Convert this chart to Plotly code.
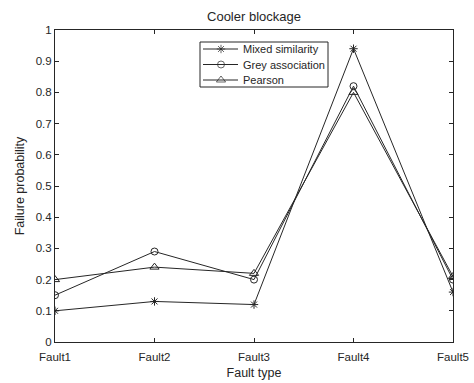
import plotly.graph_objects as go

categories = ["Fault1", "Fault2", "Fault3", "Fault4", "Fault5"]
mixed_similarity = [0.10, 0.13, 0.12, 0.94, 0.16]
grey_association = [0.15, 0.29, 0.20, 0.82, 0.20]
pearson = [0.20, 0.24, 0.22, 0.80, 0.21]
series_names = ["Mixed similarity", "Grey association", "Pearson"]
y_ticks = [0, 0.1, 0.2, 0.3, 0.4, 0.5, 0.6, 0.7, 0.8, 0.9, 1]
y_tick_labels = ["0", "0.1", "0.2", "0.3", "0.4", "0.5", "0.6", "0.7", "0.8", "0.9", "1"]

INK = "#262626"
FONT = "Liberation Sans, Arial, sans-serif"
symbols = ["asterisk-open", "circle-open", "triangle-up-open"]
sizes = [7, 7, 8]

fig = go.Figure()
for name, vals, sym, size in zip(series_names, [mixed_similarity, grey_association, pearson], symbols, sizes):
    fig.add_trace(go.Scatter(
        x=categories, y=vals, name=name, mode="lines+markers", showlegend=False,
        line=dict(color=INK, width=1),
        marker=dict(symbol=sym, size=size, color=INK, line=dict(width=1, color=INK)),
    ))

axis_common = dict(
    showline=True, linecolor=INK, linewidth=1, mirror="ticks",
    ticks="inside", ticklen=4, tickcolor=INK,
    showgrid=False, zeroline=False, automargin=False,
    tickfont=dict(family=FONT, size=11.5, color=INK),
)
fig.update_xaxes(type="category", range=[0, 4], ticklabeloverflow="allow", ticklabelstandoff=4,
                 title=dict(text="Fault type", font=dict(family=FONT, size=12.5, color=INK), standoff=6),
                 **axis_common)
fig.update_yaxes(range=[0, 1], tickvals=y_ticks, ticktext=y_tick_labels,
                 title=dict(text="Failure probability", font=dict(family=FONT, size=12.5, color=INK), standoff=8),
                 **axis_common)

# Legend drawn in pixel units on an invisible overlay axis pair (pixel coords of the figure)
fig.update_layout(
    xaxis2=dict(overlaying="x", anchor="y2", range=[55, 453], visible=False, fixedrange=True),
    yaxis2=dict(overlaying="y", anchor="x2", range=[342, 30], visible=False, fixedrange=True),
)
legend_rows = [49, 64.5, 80]
fig.add_shape(type="rect", xref="x2", yref="y2", x0=200, x1=328, y0=42, y1=87,
              line=dict(color=INK, width=1), fillcolor="white", layer="below")
for name, sym, size, ry in zip(series_names, symbols, sizes, legend_rows):
    fig.add_shape(type="line", xref="x2", yref="y2", x0=203, x1=238, y0=ry, y1=ry,
                  line=dict(color=INK, width=1), layer="below")
    fig.add_annotation(xref="x2", yref="y2", x=241, y=ry, text=name, showarrow=False,
                       xanchor="left", yanchor="middle",
                       font=dict(family=FONT, size=11, color=INK))
fig.add_trace(go.Scatter(
    x=[221, 221, 221], y=legend_rows, xaxis="x2", yaxis="y2", mode="markers",
    showlegend=False, hoverinfo="skip",
    marker=dict(symbol=symbols, size=sizes, color=INK, line=dict(width=1, color=INK)),
))

fig.update_layout(
    width=474, height=383,
    margin=dict(l=55, r=21, t=30, b=41),
    paper_bgcolor="white", plot_bgcolor="white",
    font=dict(family=FONT, size=11, color=INK),
    title=dict(text="Cooler blockage", x=(55 + 453) / 2 / 474, xanchor="center",
               y=1 - 16 / 383, yanchor="middle",
               font=dict(family=FONT, size=13, color=INK)),
    showlegend=False,
)

fig.write_html("out.html", config={"displayModeBar": False},
               post_script="document.body.style.margin='0';document.body.style.overflow='hidden';")
